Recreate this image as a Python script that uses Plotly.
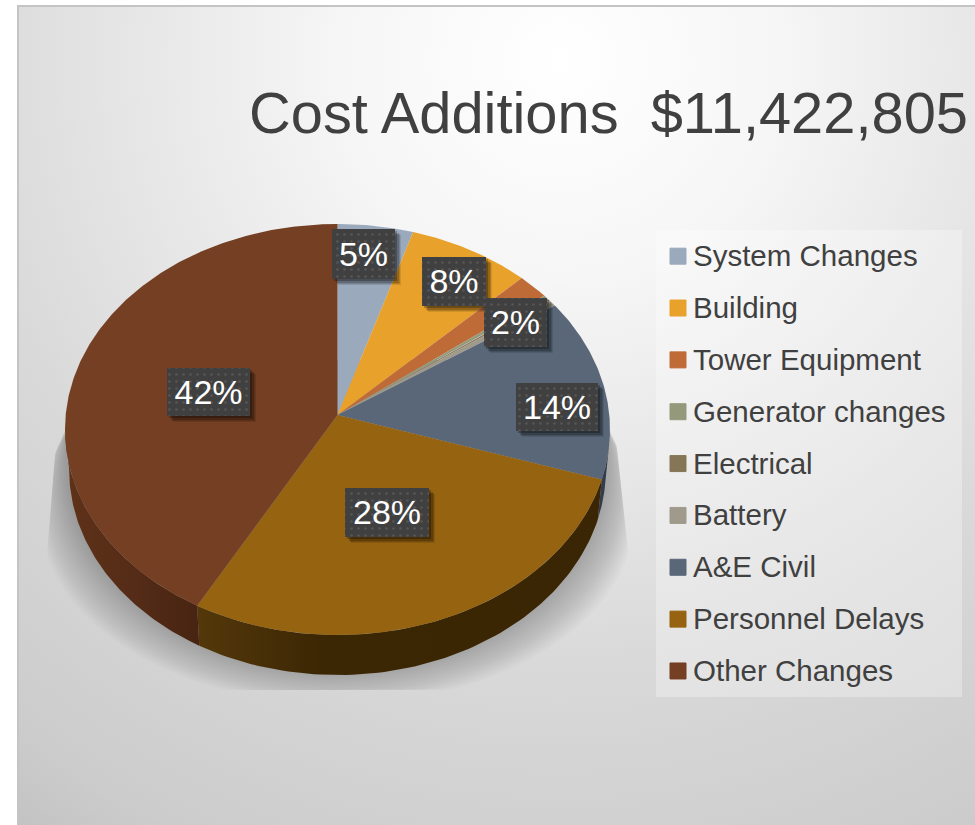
import numpy as np
import plotly.graph_objects as go

# ---- data ----
CATEGORIES = ["System Changes", "Building", "Tower Equipment", "Generator changes",
              "Electrical", "Battery", "A&E Civil", "Personnel Delays", "Other Changes"]
VALUES = [4.8, 7.8, 2.0, 0.3, 0.2, 0.5, 14.4, 28.05, 41.95]
COLORS = ["#9aa9bb", "#e8a22c", "#bf6b38", "#93997a", "#857656", "#a09a8c",
          "#596779", "#966311", "#743f22"]
SIDE_SCALES = {
    "A&E Civil": [[0, "#333c4a"], [1, "#333c4a"]],
    "Personnel Delays": [[0, "#54380a"], [0.3, "#3c2704"], [1, "#3a2504"]],
    "Other Changes": [[0, "#5f3219"], [0.5, "#552c17"], [1, "#472412"]],
}
TITLE = "Cost Additions\u00a0\u00a0$11,422,805"

# ---- styling / projection of the tilted pie ----
CX, CY, A, B, K, DEPTH = 337.5, 415.0, 204.5, 271.8, 0.0706, 40
BOTTOM_SCALE = 0.985
LABEL_BOXES = {  # left, right, top, bottom of each data-label box
    "System Changes": (332, 395, 229, 279),
    "Building": (422, 486, 257, 306),
    "Tower Equipment": (484, 547, 298, 347),
    "A&E Civil": (516, 598, 383, 431),
    "Personnel Delays": (345, 429, 488, 537),
    "Other Changes": (167, 250, 368, 416),
}
FONT = "Liberation Sans"


def proj(theta_deg):
    t = np.radians(theta_deg)
    u, v = np.sin(t), np.cos(t)
    w = 1 + K * v
    return CX + B * u / w, CY - A * v / w


def rect(l, r, t, b):
    return [l, r, r, l, l], [t, t, b, b, t]


fig = go.Figure()

# background: radial gradient, its box centred on the bright spot
bgx, bgy, R = 560, 60, 1100
x, y = rect(bgx - R, bgx + R, bgy - R, bgy + R)
fig.add_trace(go.Scatter(
    x=x, y=y, mode="lines", fill="toself", line=dict(width=0), showlegend=False, hoverinfo="skip",
    fillgradient=dict(type="radial", colorscale=[
        [0, "#ffffff"], [0.2, "#f6f6f6"], [0.55, "#d9d9d9"], [0.78, "#cccccc"], [0.9, "#bdbdbd"], [1, "#b5b5b5"]]),
))

# soft shadow: stacked, clipped ellipses that widen and sink below the pie
th = np.linspace(0, 360, 241)
SHADOW_CY, SHADOW_RY, SHADOW_RX = CY + 14 + 34, 205.5, 272.5
for d in range(0, 54, 3):
    sx = CX + (SHADOW_RX + 0.5 * d) * np.sin(np.radians(th))
    sy = SHADOW_CY + 1.0 * d + (SHADOW_RY - 0.3 * d) * np.cos(np.radians(th))
    sy = np.clip(sy, 360, 690)
    lim_l = 62 - 15 * np.clip((sy - 370) / 180, 0, 1)
    lim_r = 612 + 16 * np.clip((sy - 400) / 150, 0, 1)
    sx = np.clip(sx, lim_l, lim_r)
    fig.add_trace(go.Scatter(x=sx, y=sy, mode="lines", fill="toself", line=dict(width=0),
                             fillcolor="rgba(0,0,0,0.015)", showlegend=False, hoverinfo="skip"))

# slices from the values
total = sum(VALUES)
edges = np.concatenate([[0], np.cumsum(VALUES)]) * 360 / total
FRONT_L, FRONT_R = 100, 266

# side walls
for name, a0, a1 in zip(CATEGORIES, edges[:-1], edges[1:]):
    lo, hi = max(a0, FRONT_L), min(a1, FRONT_R)
    if hi <= lo:
        continue
    t = np.linspace(lo, hi, 80)
    px, py = proj(t)
    bx = CX + (px - CX) * BOTTOM_SCALE
    fig.add_trace(go.Scatter(
        x=np.concatenate([px, bx[::-1], px[:1]]),
        y=np.concatenate([py, py[::-1] + DEPTH, py[:1]]),
        mode="lines", fill="toself", line=dict(width=0), showlegend=False, hoverinfo="skip",
        fillgradient=dict(type="horizontal", colorscale=SIDE_SCALES.get(name, [[0, "#444"], [1, "#444"]])),
    ))

# top faces
for name, val, col, a0, a1 in zip(CATEGORIES, VALUES, COLORS, edges[:-1], edges[1:]):
    t = np.linspace(a0, a1, max(6, int((a1 - a0) * 2)))
    px, py = proj(t)
    fig.add_trace(go.Scatter(
        x=np.concatenate([[CX], px, [CX]]), y=np.concatenate([[CY], py, [CY]]),
        mode="lines", fill="toself", fillcolor=col, line=dict(width=0),
        showlegend=False, name=name, legendgroup=name, hoveron="fills", text=f"{name}: {val}%", hoverinfo="text",
    ))

# legend entries
for name, col in zip(CATEGORIES, COLORS):
    fig.add_trace(go.Scatter(
        x=[None], y=[None], mode="markers", name=name, legendgroup=name,
        marker=dict(symbol="square", size=16, color=col, line=dict(width=1, color=col)),
    ))

# data labels
for name, val in zip(CATEGORIES, VALUES):
    if name not in LABEL_BOXES:
        continue
    l, r, t, b = LABEL_BOXES[name]
    for off, alpha in [(6, 0.10), (5, 0.14), (4, 0.18), (2, 0.25)]:
        x, y = rect(l + off, r + off, t + off, b + off)
        fig.add_trace(go.Scatter(x=x, y=y, mode="lines", fill="toself", line=dict(width=0),
                                 fillcolor=f"rgba(0,0,0,{alpha})", showlegend=False, hoverinfo="skip"))
    x, y = rect(l, r, t, b)
    fig.add_trace(go.Scatter(x=x, y=y, mode="lines", fill="toself", line=dict(width=0), showlegend=False,
                             hoverinfo="skip",
                             fillpattern=dict(shape=".", size=7, solidity=0.12, fgcolor="#6a6a6a", bgcolor="#404040")))
    fig.add_trace(go.Scatter(x=[(l + r) / 2], y=[(t + b) / 2 + 3], mode="text", text=[f"{round(val)}%"],
                             textposition="middle center", showlegend=False, hoverinfo="skip",
                             textfont=dict(family=FONT, size=34, color="#ffffff")))

W, H, ML, MT = 975, 825, 19, 7
fig.update_layout(
    width=W, height=H, margin=dict(l=ML, r=0, t=MT, b=0), autosize=False,
    paper_bgcolor="#ffffff", plot_bgcolor="rgba(0,0,0,0)",
    title=dict(text=TITLE, x=(249 - ML) / (W - ML), xanchor="left", xref="paper", yref="container",
               y=1 - 113 / H, yanchor="middle",
               font=dict(family=FONT, size=58, color="#404040")),
    xaxis=dict(range=[ML, W], visible=True, showgrid=False, zeroline=False, showticklabels=False, ticks="",
               side="top", showline=True, linecolor="#c4c4c4", linewidth=2, fixedrange=True),
    yaxis=dict(range=[H, MT], visible=True, showgrid=False, zeroline=False, showticklabels=False, ticks="",
               showline=True, linecolor="#c4c4c4", linewidth=2, fixedrange=True),
    legend=dict(x=(653 - ML) / (W - ML), y=(H - 229) / (H - MT), xanchor="left", yanchor="top",
                bgcolor="rgba(0,0,0,0)", borderwidth=0, traceorder="grouped", tracegroupgap=10.5,
                font=dict(family=FONT, size=29.5, color="#404040")),
    shapes=[dict(type="rect", xref="x", yref="y", x0=656, x1=962, y0=230, y1=697,
                 fillcolor="rgba(255,255,255,0.3)", line=dict(width=0), layer="above")],
    hovermode="closest",
)

# remove the page margin; condense the title text to the reference's narrow face;
# set the legend swatches closer to their text, as in the reference
POST = """
document.body.style.margin = '0';
document.body.style.overflow = 'hidden';
var gd = document.getElementById('{plot_id}');
function fitTitle() {
  var t = gd.querySelector('text.gtitle') || document.querySelector('.gtitle');
  if (t) {
    t.removeAttribute('transform');
    var b = t.getBBox();
    if (b.width) {
      var s = 719 / b.width;
      t.setAttribute('transform', 'translate(' + b.x + ',0) scale(' + s + ',1) translate(' + (-b.x) + ',0)');
    }
  }
  document.querySelectorAll('.legendpoints').forEach(function (p) {
    p.setAttribute('transform', 'translate(5,1.5)');
  });
}
fitTitle();
if (gd.on) gd.on('plotly_afterplot', fitTitle);
[50, 200, 500, 1000].forEach(function (ms) { setTimeout(fitTitle, ms); });
"""
fig.write_html("out.html", post_script=POST, config={"displayModeBar": False})
